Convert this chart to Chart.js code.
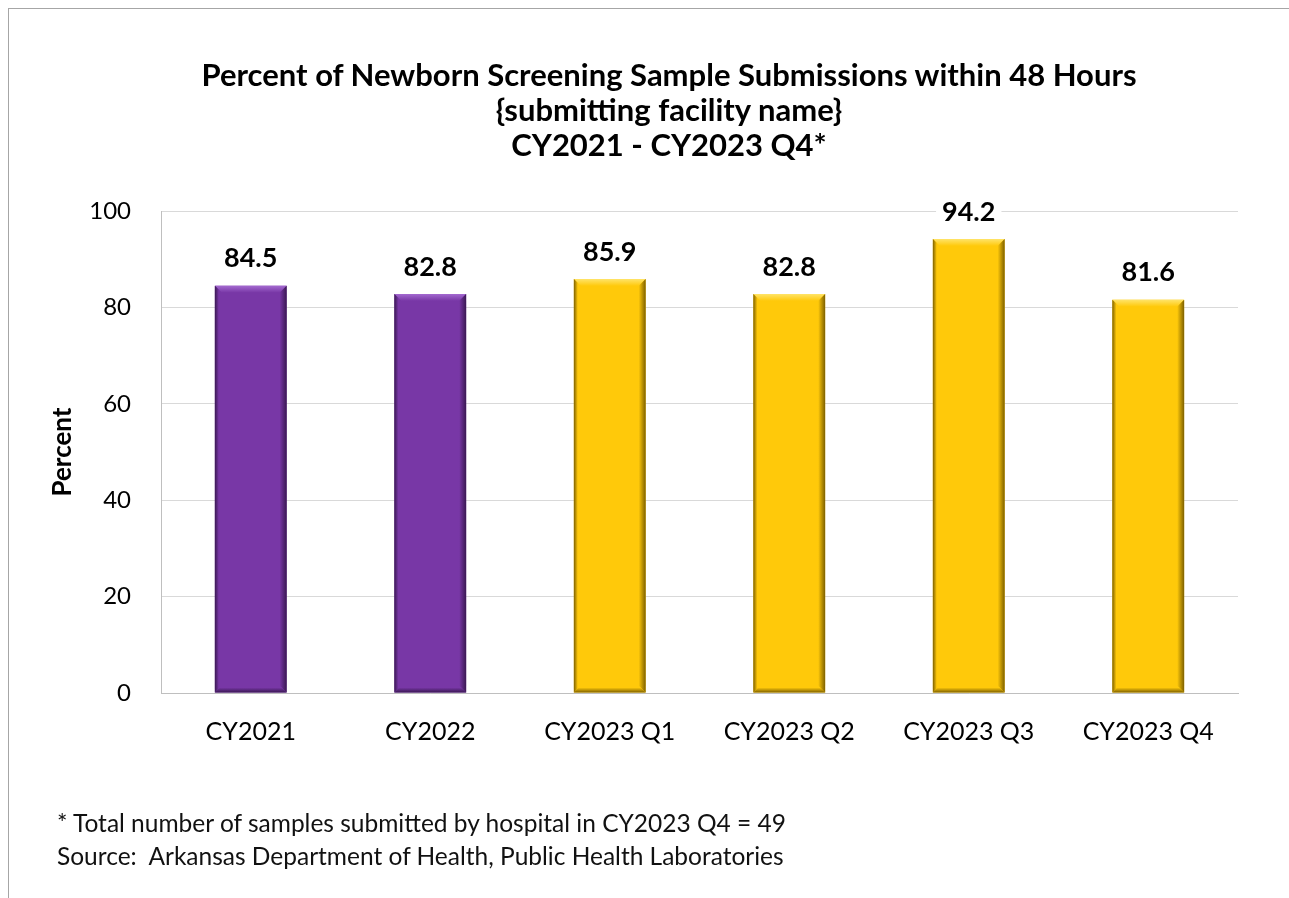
<!DOCTYPE html>
<html>
<head>
<meta charset="utf-8">
<script src="https://cdn.jsdelivr.net/npm/chart.js@4.4.1/dist/chart.umd.min.js"></script>
<style>
    html, body { margin: 0; padding: 0; background: #fff; overflow: hidden; }
    body { width: 1289px; height: 898px; position: relative; font-family: Lato, "Open Sans", sans-serif; }
    .frame { position: absolute; left: 8px; top: 8px; width: 1400px; height: 1000px; border-left: 1px solid #a6a6a6; border-top: 1px solid #a6a6a6; }
    .title { position: absolute; left: 49px; width: 1240px; top: 57px; text-align: center; font-weight: bold; font-size: 31px; line-height: 35px; color: #000; }
    .notes { position: absolute; left: 57px; top: 806px; font-size: 24.5px; line-height: 33px; color: #111; }
    #chart_wrap { position: absolute; left: 0; top: 0; width: 1289px; height: 898px; }
</style>
</head>
<body>
<div class="frame"></div>
<div id="chart_wrap"><canvas id="chart_bar"></canvas></div>
<div class="title">Percent of Newborn Screening Sample Submissions within 48 Hours<br>{submitting facility name}<br>CY2021 - CY2023 Q4*</div>
<div class="notes">* Total number of samples submitted by hospital in CY2023 Q4 = 49<br>Source:&nbsp; Arkansas Department of Health, Public Health Laboratories</div>
<script>
const categories = ["CY2021", "CY2022", "CY2023 Q1", "CY2023 Q2", "CY2023 Q3", "CY2023 Q4"];
const percent_values = [84.5, 82.8, 85.9, 82.8, 94.2, 81.6];
const y_ticks = [0, 20, 40, 60, 80, 100];

// purple for full years, gold for 2023 quarters
const bar_main = ["#7837a6", "#7837a6", "#ffc90a", "#ffc90a", "#ffc90a", "#ffc90a"];
const bar_light = ["#a46ad0", "#a46ad0", "#ffe46a", "#ffe46a", "#ffe46a", "#ffe46a"];
const bar_dark = ["#3a1852", "#3a1852", "#7d6000", "#7d6000", "#7d6000", "#7d6000"];

const bevelPlugin = {
    id: "bevel",
    afterDatasetsDraw(chart) {
        const ctx = chart.ctx;
        const meta = chart.getDatasetMeta(0);
        meta.data.forEach(function(bar, i){
            const x0 = bar.x - bar.width / 2;
            const x1 = bar.x + bar.width / 2;
            const y0 = bar.y;
            const yb = bar.base;
            const b = 7;
            ctx.save();
            // top highlight
            let g = ctx.createLinearGradient(0, y0, 0, y0 + b);
            g.addColorStop(0, bar_light[i]);
            g.addColorStop(1, bar_main[i]);
            ctx.fillStyle = g;
            ctx.beginPath();
            ctx.moveTo(x0, y0); ctx.lineTo(x1, y0); ctx.lineTo(x1 - b, y0 + b); ctx.lineTo(x0 + b, y0 + b);
            ctx.closePath(); ctx.fill();
            // right shade
            g = ctx.createLinearGradient(x1 - b, 0, x1, 0);
            g.addColorStop(0, bar_main[i]);
            g.addColorStop(1, bar_dark[i]);
            ctx.fillStyle = g;
            ctx.beginPath();
            ctx.moveTo(x1, y0); ctx.lineTo(x1, yb); ctx.lineTo(x1 - b, yb - b); ctx.lineTo(x1 - b, y0 + b);
            ctx.closePath(); ctx.fill();
            // left shade
            g = ctx.createLinearGradient(x0, 0, x0 + 4, 0);
            g.addColorStop(0, bar_dark[i]);
            g.addColorStop(1, bar_main[i]);
            ctx.fillStyle = g;
            ctx.beginPath();
            ctx.moveTo(x0, y0); ctx.lineTo(x0 + 4, y0 + 4); ctx.lineTo(x0 + 4, yb - 4); ctx.lineTo(x0, yb);
            ctx.closePath(); ctx.fill();
            // bottom shade
            g = ctx.createLinearGradient(0, yb - 5, 0, yb);
            g.addColorStop(0, bar_main[i]);
            g.addColorStop(1, bar_dark[i]);
            ctx.fillStyle = g;
            ctx.beginPath();
            ctx.moveTo(x0, yb); ctx.lineTo(x1, yb); ctx.lineTo(x1 - 5, yb - 5); ctx.lineTo(x0 + 5, yb - 5);
            ctx.closePath(); ctx.fill();
            ctx.restore();
        });
    },
    afterDraw(chart) {
        // value labels on a white box, like the excel ones
        const ctx = chart.ctx;
        const meta = chart.getDatasetMeta(0);
        ctx.save();
        ctx.font = "bold 27px Lato";
        ctx.textAlign = "center";
        ctx.textBaseline = "middle";
        meta.data.forEach(function(bar, i){
            const txt = percent_values[i].toFixed(1);
            const w = ctx.measureText(txt).width;
            const cy = bar.y - 27;
            ctx.fillStyle = "#fff";
            ctx.fillRect(bar.x - w / 2 - 6, cy - 15, w + 12, 30);
            ctx.fillStyle = "#000";
            ctx.fillText(txt, bar.x, cy);
        });
        ctx.restore();
    }
};

new Chart(document.querySelector("#chart_bar").getContext("2d"), {
    type: "bar",
    data: {
        labels: categories,
        datasets: [{
            data: percent_values,
            backgroundColor: bar_main,
            borderWidth: 0,
            barPercentage: 0.4,
            categoryPercentage: 1
        }]
    },
    options: {
        responsive: true,
        maintainAspectRatio: false,
        animation: false,
        layout: { padding: { top: 211, right: 51, bottom: 127, left: 44 } },
        plugins: {
            legend: { display: false },
            tooltip: { enabled: false }
        },
        scales: {
            x: {
                grid: { display: false, drawTicks: false },
                border: { display: true, color: "#bfbfbf", width: 1 },
                ticks: { color: "#000", padding: 24, font: { family: "Lato", size: 25 } }
            },
            y: {
                min: 0,
                max: 100,
                afterBuildTicks(scale) { scale.ticks = y_ticks.map(v => ({ value: v })); },
                afterFit(scale) { scale.width = 117; },
                grid: { color: "#d9d9d9", lineWidth: 1, drawTicks: false },
                border: { display: true, color: "#bfbfbf", width: 1 },
                ticks: { color: "#000", padding: 30, font: { family: "Lato", size: 24 } },
                title: {
                    display: true,
                    text: "Percent",
                    color: "#000",
                    font: { family: "Lato", size: 26, weight: "bold" },
                    padding: { top: 3, bottom: 10 }
                }
            }
        }
    },
    plugins: [bevelPlugin]
});
</script>
</body>
</html>
